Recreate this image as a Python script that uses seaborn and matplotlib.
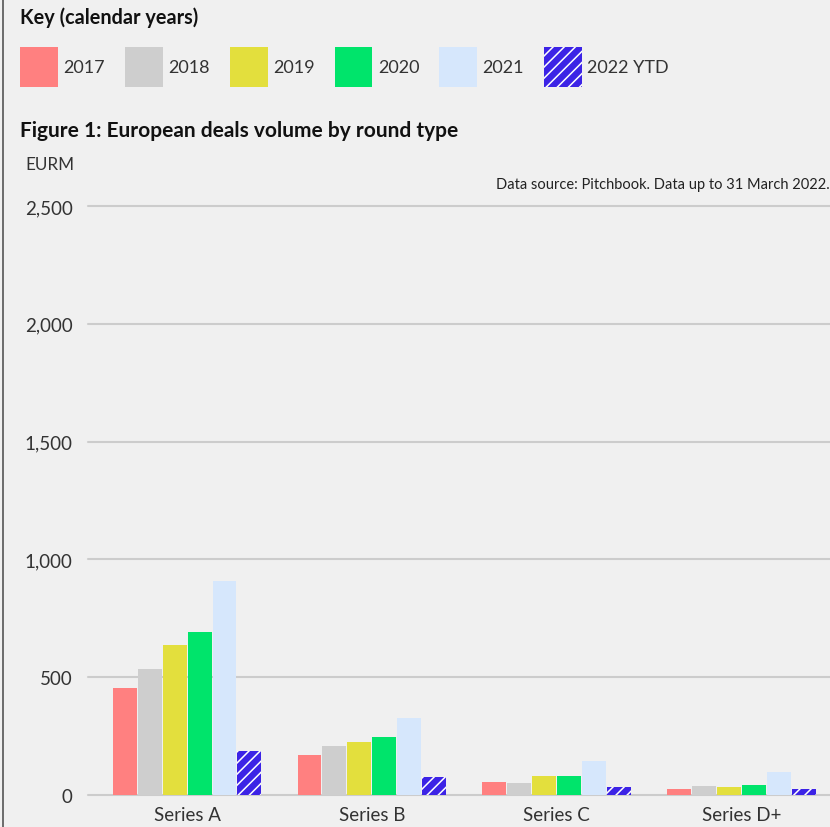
import matplotlib
matplotlib.use("Agg")
import matplotlib.pyplot as plt
import seaborn as sns
import pandas as pd
from matplotlib.patches import Patch
from matplotlib.lines import Line2D

rounds = ["Series A", "Series B", "Series C", "Series D+"]
years = ["2017", "2018", "2019", "2020", "2021", "2022 YTD"]
v2017 = [454, 170, 56, 25]
v2018 = [535, 208, 51, 38]
v2019 = [637, 225, 81, 34]
v2020 = [692, 246, 81, 42]
v2021 = [908, 327, 144, 98]
v2022 = [187, 76, 34, 25]
colors = ["#ff8080", "#cecece", "#e3df3d", "#00e46b", "#d6e7fc", "#3c23e6"]
yticks = [0, 500, 1000, 1500, 2000, 2500]

series = [v2017, v2018, v2019, v2020, v2021, v2022]
df = pd.DataFrame({
    "round": [r for s in series for r in rounds],
    "year": [y for y, s in zip(years, series) for _ in s],
    "value": [v for s in series for v in s],
})

sns.set_theme(style="white")
plt.rcParams["font.family"] = ["Lato", "DejaVu Sans"]
plt.rcParams["hatch.linewidth"] = 1.1
bg = "#f0f0f0"

fig = plt.figure(figsize=(8.3, 8.28), dpi=100, facecolor=bg)
W, H = 830, 828
ax = fig.add_axes([88 / W, (H - 796) / H, (W - 88) / W, (796 - 207) / H])
ax.set_facecolor(bg)

sns.barplot(data=df, x="round", y="value", hue="year", hue_order=years,
            order=rounds, palette=colors, width=0.81, gap=0.04,
            linewidth=0, saturation=1, legend=False, ax=ax, zorder=3)

# hatch the 2022 YTD bars
n = len(rounds)
for i, p in enumerate(ax.patches):
    if i // n == 5:
        p.set_hatch("///")
        p.set_edgecolor("white")
        p.set_linewidth(0)

ax.set_xlim(-0.536, 3.479)
ax.set_ylim(0, 2500)
ax.set_yticks(yticks)
ax.set_yticklabels([f"{t:,}" for t in yticks])
ax.yaxis.grid(True, color="#cccccc", linewidth=1.5, zorder=0)
ax.set_axisbelow(True)
for s in ax.spines.values():
    s.set_visible(False)
ax.tick_params(axis="y", length=0, pad=11, labelsize=13.5, labelcolor="#333333")
ax.tick_params(axis="x", length=0, pad=8, labelsize=13.5, labelcolor="#333333")
ax.set_xlabel("")
ax.set_ylabel("")
for gl in ax.get_ygridlines():
    gl.set_clip_on(False)

# left border line
fig.add_artist(Line2D([3 / W, 3 / W], [0, 1], color="#555555", linewidth=1.2))

# texts
fig.text(20 / W, 1 - 18 / H, "Key (calendar years)", fontsize=14.3, fontweight="bold",
         color="#111111", va="center", ha="left")
fig.text(20 / W, 1 - 131 / H, "Figure 1: European deals volume by round type",
         fontsize=15, fontweight="bold", color="#111111", va="center", ha="left")
fig.text(25 / W, 1 - 165 / H, "EURM", fontsize=12.3, color="#333333",
         va="center", ha="left")
fig.text(496 / W, 1 - 185 / H, "Data source: Pitchbook. Data up to 31 March 2022.",
         fontsize=10.5, color="#222222", va="center", ha="left")

handles = []
for y, c in zip(years, colors):
    if y == "2022 YTD":
        handles.append(Patch(facecolor=c, edgecolor="white", hatch="///", linewidth=0))
    else:
        handles.append(Patch(facecolor=c, linewidth=0))
fig.legend(handles=handles, labels=years, ncol=6, loc="center left",
           bbox_to_anchor=(13 / W, 1 - 68 / H), frameon=False, fontsize=13,
           handlelength=2.1, handleheight=3.0, handletextpad=0.3,
           columnspacing=1.1, labelcolor="#333333", borderaxespad=0)

fig.savefig("out.png", dpi=100, facecolor=bg)
